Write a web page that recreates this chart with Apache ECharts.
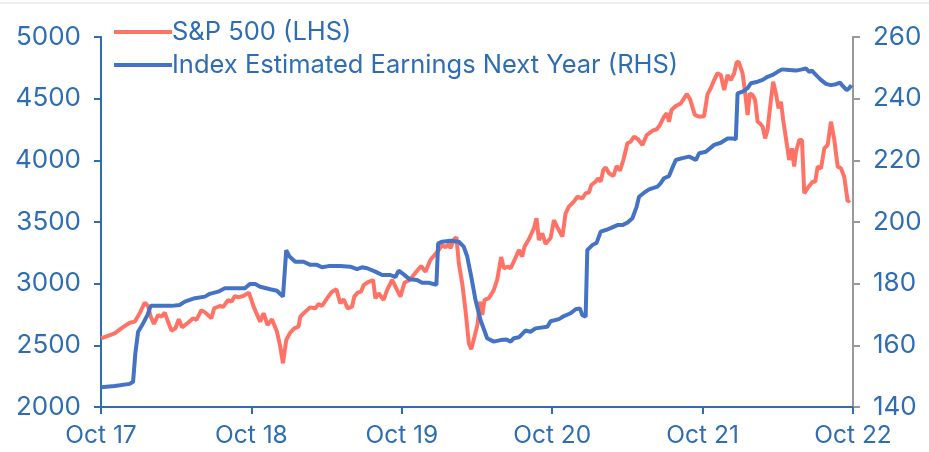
<!DOCTYPE html>
<html><head><meta charset="utf-8">
<script src="https://cdn.jsdelivr.net/npm/echarts@6/dist/echarts.min.js"></script>
<style>html,body{margin:0;padding:0;background:#fff}#c{width:929px;height:452px}</style>
</head><body><div id="c"></div>
<script>
// x positions are months since Oct 2017
const xTickLabels = ['Oct 17','Oct 18','Oct 19','Oct 20','Oct 21','Oct 22'];
const spxMonths = [0.0,1.09,1.62,2.29,2.69,3.09,3.49,3.75,3.97,4.23,4.55,4.82,5.09,5.30,5.62,5.94,6.21,6.47,6.95,7.35,7.61,8.01,8.33,8.81,9.03,9.48,9.75,10.15,10.41,10.68,10.95,11.34,11.80,12.19,12.70,12.97,13.29,13.64,14.04,14.30,14.52,14.78,15.10,15.42,15.76,15.90,16.30,16.70,17.10,17.36,17.63,17.98,18.43,18.78,19.09,19.36,19.68,20.03,20.21,20.48,20.75,20.96,21.23,21.71,21.89,22.15,22.55,22.83,23.23,23.62,23.89,24.21,24.63,25.09,25.54,25.89,26.28,26.68,26.95,27.22,27.48,27.75,27.88,28.15,28.36,28.55,28.82,29.08,29.35,29.54,29.80,30.06,30.22,30.42,30.60,30.94,31.34,31.61,31.93,32.14,32.46,32.68,33.00,33.34,33.61,33.79,34.14,34.54,34.75,34.94,35.21,35.47,35.87,36.14,36.45,36.81,37.07,37.33,37.73,38.01,38.40,38.67,38.93,39.12,39.47,39.65,39.87,40.08,40.27,40.53,40.88,41.14,41.41,41.68,42.00,42.26,42.53,42.85,43.20,43.54,44.00,44.34,44.60,44.92,45.14,45.32,45.52,45.86,46.26,46.52,46.74,47.00,47.38,47.72,48.12,48.39,48.65,48.92,49.19,49.45,49.72,49.99,50.25,50.52,50.71,50.87,51.19,51.40,51.59,51.77,51.99,52.19,52.39,52.57,52.79,52.99,53.18,53.45,53.63,53.85,54.06,54.25,54.43,54.65,54.78,54.91,55.13,55.31,55.45,55.71,55.93,56.11,56.46,56.78,56.99,57.18,57.45,57.71,57.98,58.24,58.51,58.78,59.04,59.30,59.58,59.76];
const spxValues = [2557,2597,2638,2683,2692,2760,2846,2819,2732,2673,2746,2732,2765,2706,2619,2638,2711,2646,2683,2719,2706,2786,2765,2719,2800,2819,2813,2868,2854,2900,2889,2900,2927,2810,2692,2760,2665,2711,2611,2489,2354,2543,2603,2638,2651,2732,2773,2808,2800,2835,2819,2873,2935,2954,2841,2873,2800,2813,2895,2927,2935,2989,3008,3030,2881,2922,2868,2949,3030,2949,2895,3008,3030,3089,3143,3097,3192,3241,3273,3314,3295,3322,3287,3360,3376,3165,3003,2787,2516,2468,2570,2678,2854,2746,2868,2881,2949,3030,3216,3124,3138,3124,3192,3273,3219,3300,3360,3449,3530,3354,3408,3322,3370,3516,3449,3381,3570,3624,3665,3705,3692,3733,3738,3800,3827,3854,3827,3922,3943,3895,3873,3954,3916,4003,4138,4151,4192,4171,4124,4205,4240,4252,4287,4354,4381,4313,4408,4441,4462,4503,4538,4495,4368,4354,4358,4535,4584,4651,4706,4692,4570,4692,4651,4706,4792,4800,4706,4543,4368,4543,4530,4489,4313,4300,4273,4178,4246,4489,4638,4543,4422,4476,4327,4178,4178,4003,4097,3949,4070,4165,4165,3733,3786,3827,3827,3949,3935,4097,4124,4313,4165,3949,3935,3867,3665,3678];
const epsMonths = [0.0,1.09,2.29,2.56,2.74,2.96,3.36,3.70,3.97,5.09,5.62,6.29,6.69,7.49,8.29,8.68,9.35,9.88,11.48,11.88,12.30,12.70,13.50,14.04,14.52,14.78,15.04,15.50,16.16,16.70,17.23,17.63,18.16,19.09,19.89,20.43,20.83,21.23,21.89,22.43,23.09,23.49,23.75,24.15,24.63,25.22,25.62,26.15,26.76,26.90,27.22,27.88,28.55,28.94,29.22,29.54,29.88,30.28,30.81,31.34,31.88,32.36,32.68,32.94,33.34,33.87,34.27,34.67,35.61,35.87,36.54,36.94,37.47,37.87,38.21,38.40,38.67,38.80,39.20,39.55,39.87,40.27,40.66,41.20,41.60,42.00,42.40,42.74,42.93,43.33,43.73,44.40,44.66,44.92,45.32,45.52,45.86,46.39,46.92,47.19,47.46,47.72,48.26,48.92,49.45,49.99,50.39,50.65,50.79,51.19,51.59,51.85,52.39,52.79,53.18,53.58,53.98,54.33,54.91,55.45,55.93,56.24,56.51,56.72,57.04,57.44,57.84,58.24,58.64,58.96,59.18,59.50,59.70,59.87];
const epsValues = [146.4,146.8,147.5,148.2,157.4,164.4,167.1,169.8,172.8,172.8,172.8,173.1,174.2,175.3,175.8,176.7,177.4,178.5,178.5,179.9,179.9,179.0,178.2,177.7,175.8,190.9,188.8,187.1,187.1,186.1,186.1,185.3,185.7,185.7,185.5,184.7,185.3,185.0,183.9,182.8,182.8,182.1,184.2,183.0,181.4,181.2,180.3,180.3,179.6,193.1,193.6,193.9,193.6,192.0,188.8,182.3,174.7,168.2,162.3,161.2,161.7,161.9,161.2,162.3,162.6,164.8,164.4,165.5,166.0,167.8,168.5,169.5,170.4,171.7,172.0,169.8,169.3,190.9,192.5,193.3,196.9,197.4,198.0,199.0,199.0,199.8,201.2,205.0,208.2,209.5,210.6,211.5,212.6,214.2,214.9,216.9,220.1,220.7,221.2,220.7,220.1,222.3,222.8,225.0,225.7,227.1,227.1,226.8,241.7,242.3,243.4,245.0,245.5,246.1,247.1,247.7,248.7,249.5,249.3,249.1,249.5,249.8,248.7,249.1,247.7,246.1,244.8,244.4,244.7,245.2,244.1,242.8,243.4,244.4];

const TXT = '#2E6DB4';
const FONT = 'Inter';
const spxData = spxMonths.map((m, i) => [m, spxValues[i]]);
const epsData = epsMonths.map((m, i) => [m, epsValues[i]]);

const chart = echarts.init(document.getElementById('c'), null, {renderer: 'canvas'});
chart.setOption({
  animation: false,
  backgroundColor: '#fff',
  textStyle: {fontFamily: FONT},
  grid: {left: 101, right: 76, top: 37, bottom: 45, containLabel: false},
  legend: {
    orient: 'vertical', left: 114, top: 19, itemWidth: 58, itemHeight: 4, itemGap: 7, padding: 0,
    icon: 'rect',
    textStyle: {color: TXT, fontSize: 25.5, fontFamily: FONT, padding: [0,0,0,-5]},
    data: ['S&P 500 (LHS)', 'Index Estimated Earnings Next Year (RHS)']
  },
  xAxis: {
    type: 'value', min: 0, max: 60, interval: 12,
    axisLine: {lineStyle: {color: TXT, width: 2}},
    axisTick: {show: true, length: 7, lineStyle: {color: TXT, width: 2}},
    splitLine: {show: false},
    axisLabel: {color: TXT, fontSize: 24.5, fontFamily: FONT, margin: 16,
      formatter: v => xTickLabels[Math.round(v / 12)] || ''}
  },
  yAxis: [{
    type: 'value', min: 2000, max: 5000, interval: 500, position: 'left',
    axisLine: {show: true, lineStyle: {color: TXT, width: 2}},
    axisTick: {show: true, length: 7, lineStyle: {color: TXT, width: 2}},
    splitLine: {show: false},
    axisLabel: {color: TXT, fontSize: 26, fontFamily: FONT, margin: 20, formatter: v => String(v)}
  }, {
    type: 'value', min: 140, max: 260, interval: 20, position: 'right',
    axisLine: {show: true, lineStyle: {color: '#999999', width: 2}},
    axisTick: {show: true, length: 7, lineStyle: {color: '#999999', width: 2}},
    splitLine: {show: false},
    axisLabel: {color: TXT, fontSize: 26, fontFamily: FONT, margin: 20, formatter: v => String(v)}
  }],
  series: [{
    name: 'S&P 500 (LHS)', type: 'line', yAxisIndex: 0, data: spxData,
    showSymbol: false, symbol: 'none', lineStyle: {color: '#FF7366', width: 4}, itemStyle: {color: '#FF7366'}, z: 2
  }, {
    name: 'Index Estimated Earnings Next Year (RHS)', type: 'line', yAxisIndex: 1, data: epsData,
    showSymbol: false, symbol: 'none', lineStyle: {color: '#4472C4', width: 4}, itemStyle: {color: '#4472C4'}, z: 3
  }],
  graphic: [{type: 'line', shape: {x1: 0, y1: 3, x2: 929, y2: 3}, style: {stroke: '#dddddd', lineWidth: 1}}]
});
</script></body></html>
